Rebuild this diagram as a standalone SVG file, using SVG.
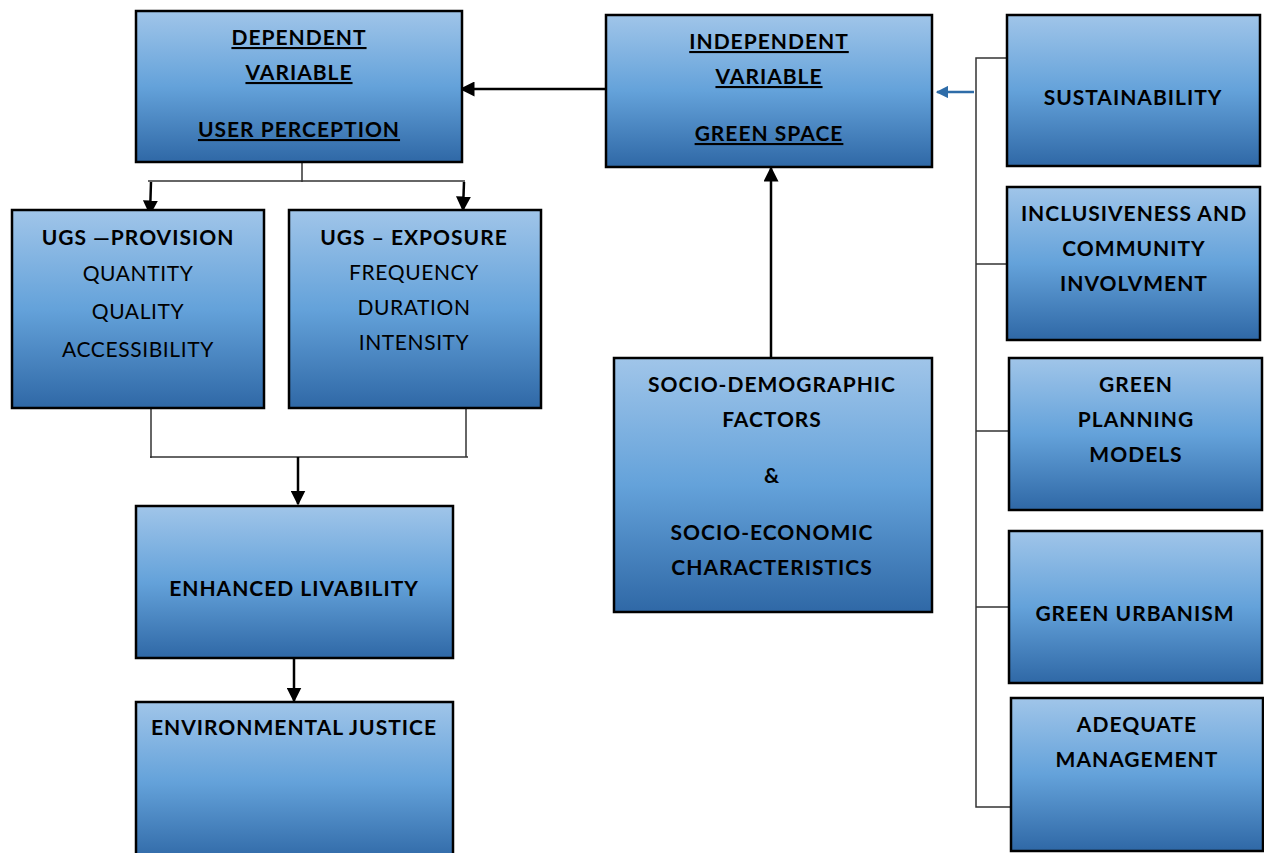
<svg xmlns="http://www.w3.org/2000/svg" width="1264" height="853" viewBox="0 0 1264 853">
<defs>
<linearGradient id="g" x1="0" y1="0" x2="0" y2="1">
<stop offset="0" stop-color="#a0c5e9"/>
<stop offset="0.5" stop-color="#64a2da"/>
<stop offset="1" stop-color="#2f68a6"/>
</linearGradient>
<marker id="ak" viewBox="0 0 10 10" refX="9" refY="5" markerWidth="6" markerHeight="6" orient="auto">
<path d="M0,0 L10,5 L0,10 z" fill="#000"/>
</marker>
<marker id="au" viewBox="0 0 10 10" refX="9" refY="5" markerWidth="5" markerHeight="5" orient="auto">
<path d="M0,0 L10,5 L0,10 z" fill="#2e6ca8"/>
</marker>
</defs>
<style>
.box{fill:url(#g);stroke:#000;stroke-width:2.5}
text{font-family:Lato,"Liberation Sans",sans-serif;font-size:21px;fill:#000;text-anchor:middle;letter-spacing:0.6px}
.b{font-weight:bold;letter-spacing:1px}
.u{text-decoration:underline}
.ln{fill:none;stroke:#333;stroke-width:1.5}
.ar{fill:none;stroke:#000;stroke-width:2.5;marker-end:url(#ak)}
</style>
<g id="connectors">
<line class="ar" x1="606" y1="89" x2="461" y2="89"/>
<line x1="974" y1="92" x2="937" y2="92" stroke="#2e6ca8" stroke-width="2.5" marker-end="url(#au)"/>
<polyline class="ln" points="1011,58 976,58 976,807 1011,807"/>
<line class="ln" x1="976" y1="264" x2="1007" y2="264"/>
<line class="ln" x1="976" y1="431" x2="1009" y2="431"/>
<line class="ln" x1="976" y1="607" x2="1009" y2="607"/>
<line class="ln" x1="302" y1="162" x2="302" y2="182"/>
<line class="ln" x1="148" y1="181" x2="465" y2="181"/>
<line class="ar" x1="151" y1="182" x2="150" y2="214"/>
<line class="ar" x1="464" y1="182" x2="463" y2="210"/>
<polyline class="ln" points="151,408 151,458"/>
<polyline class="ln" points="466,408 466,457"/>
<line class="ln" x1="150" y1="457" x2="468" y2="457"/>
<line class="ar" x1="298" y1="457" x2="298" y2="504"/>
<line class="ar" x1="294" y1="658" x2="294" y2="701"/>
<line class="ar" x1="771" y1="358" x2="771" y2="168"/>
</g>
<g id="dependent">
<rect class="box" x="136" y="11" width="326" height="151"/>
<text class="b u" x="299" y="45">DEPENDENT</text>
<text class="b u" x="299" y="80">VARIABLE</text>
<text class="b u" x="299" y="137">USER PERCEPTION</text>
</g>
<g id="independent">
<rect class="box" x="606" y="15" width="326" height="152"/>
<text class="b u" x="769" y="49">INDEPENDENT</text>
<text class="b u" x="769" y="84">VARIABLE</text>
<text class="b u" x="769" y="141">GREEN SPACE</text>
</g>
<g id="provision">
<rect class="box" x="12" y="210" width="252" height="198"/>
<text class="b" x="138" y="245">UGS —PROVISION</text>
<text x="138" y="281">QUANTITY</text>
<text x="138" y="319">QUALITY</text>
<text x="138" y="357">ACCESSIBILITY</text>
</g>
<g id="exposure">
<rect class="box" x="289" y="210" width="252" height="198"/>
<text class="b" x="414" y="245">UGS – EXPOSURE</text>
<text x="414" y="280">FREQUENCY</text>
<text x="414" y="315">DURATION</text>
<text x="414" y="350">INTENSITY</text>
</g>
<g id="livability">
<rect class="box" x="136" y="506" width="317" height="152"/>
<text class="b" x="294" y="596">ENHANCED LIVABILITY</text>
</g>
<g id="justice">
<rect class="box" x="136" y="702" width="317" height="160"/>
<text class="b" x="294" y="735">ENVIRONMENTAL JUSTICE</text>
</g>
<g id="socio">
<rect class="box" x="614" y="358" width="318" height="254"/>
<text class="b" x="772" y="392">SOCIO-DEMOGRAPHIC</text>
<text class="b" x="772" y="427">FACTORS</text>
<text class="b" x="772" y="483">&amp;</text>
<text class="b" x="772" y="540">SOCIO-ECONOMIC</text>
<text class="b" x="772" y="575">CHARACTERISTICS</text>
</g>
<g id="sustainability">
<rect class="box" x="1007" y="15" width="253" height="151"/>
<text class="b" x="1133" y="105">SUSTAINABILITY</text>
</g>
<g id="inclusiveness">
<rect class="box" x="1007" y="187" width="253" height="153"/>
<text class="b" x="1134" y="221">INCLUSIVENESS AND</text>
<text class="b" x="1134" y="256">COMMUNITY</text>
<text class="b" x="1134" y="291">INVOLVMENT</text>
</g>
<g id="planning">
<rect class="box" x="1009" y="358" width="253" height="152"/>
<text class="b" x="1136" y="392">GREEN</text>
<text class="b" x="1136" y="427">PLANNING</text>
<text class="b" x="1136" y="462">MODELS</text>
</g>
<g id="urbanism">
<rect class="box" x="1009" y="531" width="253" height="152"/>
<text class="b" x="1135" y="621">GREEN URBANISM</text>
</g>
<g id="management">
<rect class="box" x="1011" y="698" width="252" height="153"/>
<text class="b" x="1137" y="732">ADEQUATE</text>
<text class="b" x="1137" y="767">MANAGEMENT</text>
</g>
</svg>
